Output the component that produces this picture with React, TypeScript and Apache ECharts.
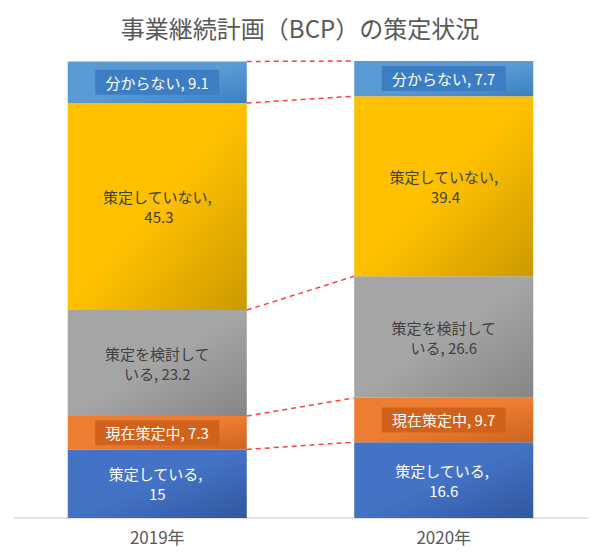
import React, { useEffect, useRef } from "react";
import * as echarts from "echarts";

const categories = ["2019年", "2020年"];
const seriesNames = ["策定している", "現在策定中", "策定を検討している", "策定していない", "分からない"];
const values2019 = [15, 7.3, 23.2, 45.3, 9.1];
const values2020 = [16.6, 9.7, 26.6, 39.4, 7.7];
const baseColors = ["#4472C4", "#ED7D31", "#A5A5A5", "#FFC000", "#5B9BD5"];
const darkColors = ["#30579E", "#CC6420", "#858585", "#CB9A00", "#3A80C0"];
const labelColors = ["#FFFFFF", "#FFFFFF", "#404040", "#404040", "#FFFFFF"];
const labelBoxColors = [null, "#D0621C", null, null, "#3C7DC4"];

const FONT = "'Noto Sans CJK JP', 'Noto Sans', sans-serif";

export default function App() {
  const ref = useRef<HTMLDivElement>(null);
  useEffect(() => {
    if (!ref.current) return;
    const chart = echarts.init(ref.current, null, { renderer: "svg" });

    const barSeries = seriesNames.map((name, i) => ({
      name,
      type: "bar",
      stack: "total",
      barWidth: "62.5%",
      data: [values2019[i], values2020[i]],
      itemStyle: {
        color: new echarts.graphic.LinearGradient(0, 0, 1, 1, [
          { offset: 0, color: baseColors[i] },
          { offset: 0.5, color: baseColors[i] },
          { offset: 1, color: darkColors[i] },
        ]),
      },
      label: {
        show: true,
        position: "inside",
        formatter: (p: any) => `${p.seriesName}, ${p.value}`,
        color: labelColors[i],
        fontFamily: FONT,
        fontSize: 15,
        lineHeight: 20,
        width: 112,
        overflow: "break",
        align: "center",
        backgroundColor: labelBoxColors[i] || "transparent",
        padding: labelBoxColors[i] ? [3, 6, 2, 6] : 0,
      },
    }));

    const cum2019: number[] = [];
    const cum2020: number[] = [];
    let a = 0;
    let b = 0;
    for (let i = 0; i < seriesNames.length; i++) {
      a += values2019[i];
      b += values2020[i];
      cum2019.push(+a.toFixed(1));
      cum2020.push(+b.toFixed(1));
    }
    const connectorData = cum2019.map((v, i) => [0, v, cum2020[i]]);

    const connectorSeries = {
      type: "custom",
      silent: true,
      z: 5,
      encode: { x: 0, y: 1 },
      data: connectorData,
      renderItem: (params: any, api: any) => {
        const y0 = api.value(1);
        const y1 = api.value(2);
        const p0 = api.coord([0, y0]);
        const p1 = api.coord([1, y1]);
        const band = api.size([1, 0])[0];
        const bw = band * 0.625;
        return {
          type: "line",
          shape: { x1: p0[0] + bw / 2, y1: p0[1], x2: p1[0] - bw / 2, y2: p1[1] },
          style: { stroke: "#FF4040", lineWidth: 1.5, lineDash: [5, 4] },
        };
      },
    };

    chart.setOption({
      animation: false,
      title: {
        text: "事業継続計画（BCP）の策定状況",
        left: "center",
        top: 10,
        textStyle: { fontFamily: FONT, fontSize: 24, fontWeight: "normal", color: "#595959" },
      },
      grid: { left: 14, right: 13, top: 61, bottom: 34 },
      xAxis: {
        type: "category",
        data: categories,
        axisLine: { lineStyle: { color: "#D9D9D9", width: 1.5 } },
        axisTick: { show: false },
        axisLabel: { color: "#595959", fontFamily: FONT, fontSize: 17, margin: 10 },
      },
      yAxis: {
        type: "value",
        min: 0,
        max: 100,
        show: false,
        splitLine: { show: false },
      },
      series: [...barSeries, connectorSeries],
    });
    return () => chart.dispose();
  }, []);
  return (
    <div style={{ position: "fixed", left: 0, top: 0, width: 600, height: 552, background: "#fff" }}>
      <div ref={ref} style={{ width: 600, height: 552 }} />
    </div>
  );
}
